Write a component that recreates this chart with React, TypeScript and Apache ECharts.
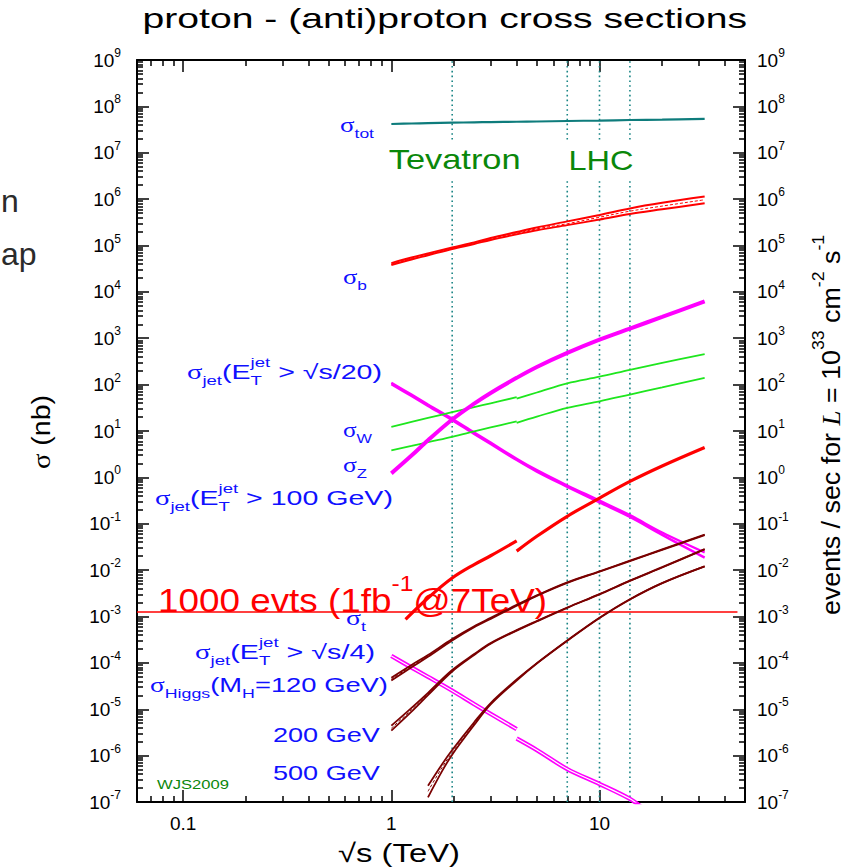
import React, { useEffect, useRef } from "react";
import * as echarts from "echarts";

const SANS = '"Liberation Sans", Arial, Helvetica, sans-serif';
const SERIF = '"Liberation Serif", "Times New Roman", serif';

// ---------- axes ----------
const sqrtsMin = 0.06;
const sqrtsMax = 50;
const sigmaMin = 1e-7;
const sigmaMax = 1e9;
const xTickLabels = [0.1, 1, 10];
const yTickExponents = [-7, -6, -5, -4, -3, -2, -1, 0, 1, 2, 3, 4, 5, 6, 7, 8, 9];

// ---------- collider energies (TeV) ----------
const tevatronEnergy = 1.96;
const lhcEnergies = [7, 10, 14];

// ---------- sqrt(s) grids (TeV) ----------
const sqrtsAll = [1, 1.25, 1.5, 1.96, 2.5, 3, 4, 5, 7, 10, 14, 20, 32];
const sqrtsPpbar = [1, 1.25, 1.5, 1.96, 2.5, 3, 4];
const sqrtsPp = [4, 5, 7, 10, 14, 20, 32];
const sqrtsTopPpbar = [1.17, 1.5, 1.96, 2.5, 3, 4];
const sqrtsJet4Pp = [4, 5, 7, 10, 14, 16];
const sqrtsHiggs500 = [1.5, 1.75, 1.96, 2.5, 3, 4, 5, 7, 10, 14, 20, 32];

// ---------- cross sections (nb) ----------
const sigmaTot = [4.17e7, 4.27e7, 4.34e7, 4.45e7, 4.53e7, 4.58e7, 4.66e7, 4.72e7, 4.84e7, 4.95e7, 5.08e7, 5.2e7, 5.37e7];
const sigmaBUpper = [4.17e4, 5.5e4, 6.76e4, 9.02e4, 1.16e5, 1.45e5, 1.95e5, 2.45e5, 3.31e5, 4.57e5, 6.31e5, 8.32e5, 1.135e6];
const sigmaBLower = [3.8e4, 5.01e4, 6.17e4, 8.41e4, 1.08e5, 1.32e5, 1.74e5, 2.14e5, 2.75e5, 3.63e5, 4.79e5, 6.03e5, 8.13e5];
const sigmaBCentral = [3.98e4, 5.25e4, 6.46e4, 8.71e4, 1.12e5, 1.38e5, 1.84e5, 2.29e5, 2.95e5, 4.07e5, 5.5e5, 7.08e5, 9.7e5];
const sigmaJet20Upper = [109.6, 60.9, 37.2, 18.3, 9.23, 5.61, 2.52, 1.43, 0.668, 0.316, 0.153, 0.0646, 0.024];
const sigmaJet20Lower = [101.9, 56.9, 34.8, 17.1, 8.61, 5.24, 2.36, 1.33, 0.624, 0.288, 0.14, 0.0575, 0.0186];
const sigmaJet100 = [1.22, 2.95, 6.31, 17.7, 38.9, 66.1, 140, 240, 483, 933, 1620, 2880, 6240];
const sigmaWPpbar = [12.3, 15.7, 19.1, 25.4, 32.7, 39.5, 53.5];
const sigmaWPp = [50.1, 67.6, 107, 148, 209, 295, 457];
const sigmaZPpbar = [3.8, 4.76, 5.75, 7.5, 9.77, 11.9, 16.2];
const sigmaZPp = [15.0, 20.4, 31.6, 43.7, 61.1, 87.1, 140];
const sigmaTopPpbar = [8.7e-4, 2.51e-3, 6.76e-3, 1.32e-2, 2.04e-2, 4.27e-2];
const sigmaTopPp = [0.0257, 0.0537, 0.145, 0.358, 0.817, 1.76, 4.41];
const sigmaJet4Ppbar = [1.41e-4, 7.94e-5, 5.01e-5, 2.51e-5, 1.29e-5, 7.94e-6, 3.72e-6];
const sigmaJet4Pp = [2.34e-6, 1.32e-6, 5.13e-7, 2.45e-7, 1.17e-7, 7.6e-8];
const higgs120Upper = [4.79e-5, 9.02e-5, 1.48e-4, 3.27e-4, 6.17e-4, 9.33e-4, 1.78e-3, 2.85e-3, 5.43e-3, 9.44e-3, 1.6e-2, 2.79e-2, 5.82e-2];
const higgs120Lower = [4.17e-5, 8.04e-5, 1.35e-4, 3.05e-4, 5.89e-4, 8.91e-4, 1.7e-3, 2.79e-3, 5.31e-3, 9.23e-3, 1.57e-2, 2.72e-2, 5.69e-2];
const higgs120Central = [4.47e-5, 8.51e-5, 1.41e-4, 3.16e-4, 6.03e-4, 9.12e-4, 1.74e-3, 2.82e-3, 5.37e-3, 9.33e-3, 1.58e-2, 2.75e-2, 5.75e-2];
const higgs200Upper = [4.42e-6, 1.07e-5, 2.26e-5, 7.0e-5, 1.55e-4, 2.67e-4, 5.07e-4, 8.0e-4, 1.56e-3, 3.04e-3, 5.92e-3, 1.16e-2, 2.84e-2];
const higgs200Lower = [3.47e-6, 8.91e-6, 2.02e-5, 6.53e-5, 1.48e-4, 2.59e-4, 4.95e-4, 7.87e-4, 1.54e-3, 3.0e-3, 5.86e-3, 1.14e-2, 2.8e-2];
const higgs200Central = [3.89e-6, 9.77e-6, 2.14e-5, 6.76e-5, 1.51e-4, 2.63e-4, 5.01e-4, 7.94e-4, 1.55e-3, 3.02e-3, 5.89e-3, 1.15e-2, 2.82e-2];
const higgs500Upper = [2.24e-7, 6.46e-7, 1.32e-6, 5.25e-6, 1.36e-5, 4.37e-5, 9.89e-5, 3.05e-4, 9.4e-4, 2.36e-3, 5.26e-3, 1.21e-2];
const higgs500Lower = [1.26e-7, 4.57e-7, 1.05e-6, 4.57e-6, 1.27e-5, 4.17e-5, 9.66e-5, 2.99e-4, 9.27e-4, 2.33e-3, 5.24e-3, 1.2e-2];
const higgs500Central = [1.7e-7, 5.5e-7, 1.17e-6, 4.9e-6, 1.32e-5, 4.27e-5, 9.77e-5, 3.02e-4, 9.33e-4, 2.34e-3, 5.25e-3, 1.2e-2];
// 1000 events with 1 fb^-1
const evts1000Sigma = 1.25e-3;
const evts1000Range = [0.06, 46];

// ---------- colours ----------
const TEAL = "#0e7c7c";
const DOT = "#1a8585";
const RED = "#ff0000";
const MAGENTA = "#ff00ff";
const GREEN = "#1ee61e";
const DARKRED = "#7a0000";
const BLUE = "#1010ff";
const DGREEN = "#0a870a";

// ---------- text helper ----------
let measureCtx: CanvasRenderingContext2D | null = null;
function measure(text: string, font: string): number {
  if (!measureCtx) measureCtx = document.createElement("canvas").getContext("2d");
  measureCtx!.font = font;
  return measureCtx!.measureText(text).width;
}

type Piece = { t: string; r?: "sub" | "sup"; stack?: boolean; serif?: boolean; italic?: boolean };
type LabelOpt = {
  x: number; y: number; pieces: Piece[]; size: number; color: string;
  anchor: "left" | "right" | "center"; width?: number; rotation?: number; z?: number; bg?: string;
};

function textGroup(o: LabelOpt): any {
  const subSize = Math.round(o.size * 0.66);
  const kids: any[] = [];
  let cursor = 0, lastStart = 0, lastAdv = 0;
  for (const p of o.pieces) {
    const fs = p.r ? subSize : o.size;
    const family = p.serif ? SERIF : SANS;
    const font = `${p.italic ? "italic " : ""}${fs}px ${family}`;
    const w = measure(p.t, font);
    let x0: number;
    if (p.stack) {
      x0 = lastStart;
      lastAdv = Math.max(lastAdv, w);
      cursor = lastStart + lastAdv;
    } else {
      x0 = cursor;
      lastStart = x0;
      lastAdv = w;
      cursor += w;
    }
    const dy = p.r === "sub" ? o.size * 0.42 : p.r === "sup" ? -o.size * 0.5 : 0;
    const style: any = {
      text: p.t, font, fill: o.color,
      textAlign: "left", align: "left", textVerticalAlign: "middle", verticalAlign: "middle",
    };
    if (o.bg) { style.backgroundColor = o.bg; style.padding = [4, 3]; }
    kids.push({ type: "text", x: x0, y: dy, z: o.z ?? 2, silent: true, style });
  }
  const total = cursor;
  const shift = o.anchor === "right" ? -total : o.anchor === "center" ? -total / 2 : 0;
  for (const k of kids) k.x += shift;
  const sx = o.width ? o.width / total : 1;
  return { type: "group", x: o.x, y: o.y, scaleX: sx, scaleY: 1, rotation: o.rotation ?? 0, silent: true, children: kids };
}

const S = (t: string): Piece => ({ t, serif: true });
const T = (t: string): Piece => ({ t });
const sub = (t: string): Piece => ({ t, r: "sub" });
const sup = (t: string, stack = false): Piece => ({ t, r: "sup", stack });

// ---------- series helpers ----------
const pairs = (xs: number[], ys: number[]) => xs.map((x, i) => [x, ys[i]]);
function curve(xs: number[], ys: number[], color: string, width: number, type: any = "solid", z = 3): any {
  return {
    type: "line", xAxisIndex: 0, yAxisIndex: 0, data: pairs(xs, ys),
    symbol: "none", showSymbol: false, smooth: 0.35,
    silent: true, z, lineStyle: { color, width, type },
  };
}

function minorTicks(lo: number, hi: number): number[] {
  const out: number[] = [];
  for (let e = Math.floor(Math.log10(lo)); e <= Math.ceil(Math.log10(hi)); e++) {
    for (let k = 2; k <= 9; k++) {
      const v = parseFloat(`${k}e${e}`);
      if (v >= lo * 0.999 && v <= hi * 1.001) out.push(v);
    }
  }
  return out;
}

function buildOption(): any {
  const yMajor = yTickExponents.map((e) => parseFloat(`1e${e}`));
  const xMinor = minorTicks(sqrtsMin, sqrtsMax);
  const yMinor = minorTicks(sigmaMin, sigmaMax);
  const gridBox = { left: 137, right: 107, top: 60, bottom: 66, containLabel: false, outerBoundsMode: "none" };

  const tickStyle = { color: "#000", width: 1.5 };
  const baseX = { type: "log", logBase: 10, min: sqrtsMin, max: sqrtsMax, splitLine: { show: false }, minorTick: { show: false } };
  const baseY = { type: "log", logBase: 10, min: sigmaMin, max: sigmaMax, splitLine: { show: false }, minorTick: { show: false } };
  const frame = { show: true, onZero: false, lineStyle: { color: "#000", width: 2 } };
  const noLine = { show: false, onZero: false };
  const yLabelRich = {
    b: { fontSize: 19, fontFamily: SANS, color: "#000", lineHeight: 26 },
    e: { fontSize: 12, fontFamily: SANS, color: "#000", lineHeight: 12, verticalAlign: "top" },
  };
  const yFormatter = (v: number) => `{b|10}{e|${Math.round(Math.log10(v))}}`;

  const xAxis = [
    { ...baseX, gridIndex: 0, position: "bottom", axisLine: frame,
      axisTick: { show: true, inside: true, length: 12, customValues: xTickLabels, lineStyle: tickStyle },
      axisLabel: { show: true, customValues: xTickLabels, formatter: (v: number) => String(v), color: "#000", fontSize: 19, fontFamily: SANS, margin: 12 } },
    { ...baseX, gridIndex: 0, position: "top", axisLine: frame,
      axisTick: { show: true, inside: true, length: 12, customValues: xTickLabels, lineStyle: tickStyle },
      axisLabel: { show: false } },
    { ...baseX, gridIndex: 1, position: "bottom", axisLine: noLine,
      axisTick: { show: true, inside: true, length: 6, customValues: xMinor, lineStyle: tickStyle },
      axisLabel: { show: false } },
    { ...baseX, gridIndex: 1, position: "top", axisLine: noLine,
      axisTick: { show: true, inside: true, length: 6, customValues: xMinor, lineStyle: tickStyle },
      axisLabel: { show: false } },
  ];
  const yAxis = [
    { ...baseY, gridIndex: 0, position: "left", axisLine: frame,
      axisTick: { show: true, inside: true, length: 12, customValues: yMajor, lineStyle: tickStyle },
      axisLabel: { show: true, customValues: yMajor, formatter: yFormatter, rich: yLabelRich, margin: 16 } },
    { ...baseY, gridIndex: 0, position: "right", axisLine: frame,
      axisTick: { show: true, inside: true, length: 12, customValues: yMajor, lineStyle: tickStyle },
      axisLabel: { show: true, customValues: yMajor, formatter: yFormatter, rich: yLabelRich, margin: 12 } },
    { ...baseY, gridIndex: 1, position: "left", axisLine: noLine,
      axisTick: { show: true, inside: true, length: 6, customValues: yMinor, lineStyle: tickStyle },
      axisLabel: { show: false } },
    { ...baseY, gridIndex: 1, position: "right", axisLine: noLine,
      axisTick: { show: true, inside: true, length: 6, customValues: yMinor, lineStyle: tickStyle },
      axisLabel: { show: false } },
  ];

  const series: any[] = [];
  // collider energy markers
  [tevatronEnergy, ...lhcEnergies].forEach((e) => {
    series.push({
      type: "line", xAxisIndex: 0, yAxisIndex: 0, data: [[e, sigmaMin], [e, sigmaMax]],
      symbol: "none", silent: true, z: 1, lineStyle: { color: DOT, width: 1.6, type: [1.6, 3.2] },
    });
  });
  // 1000 events line
  series.push({
    type: "line", xAxisIndex: 0, yAxisIndex: 0,
    data: [[evts1000Range[0], evts1000Sigma], [evts1000Range[1], evts1000Sigma]],
    symbol: "none", silent: true, z: 3, lineStyle: { color: RED, width: 1.6 },
  });
  // sigma_tot
  series.push(curve(sqrtsAll, sigmaTot, TEAL, 2.2));
  // sigma_b band
  series.push(curve(sqrtsAll, sigmaBUpper, RED, 2));
  series.push(curve(sqrtsAll, sigmaBLower, RED, 2));
  series.push(curve(sqrtsAll, sigmaBCentral, RED, 1, [3, 2]));
  // jets E_T > sqrt(s)/20
  series.push(curve(sqrtsAll, sigmaJet20Upper, MAGENTA, 2.4));
  series.push(curve(sqrtsAll, sigmaJet20Lower, MAGENTA, 2.4));
  // W and Z
  series.push(curve(sqrtsPpbar, sigmaWPpbar, GREEN, 1.8));
  series.push(curve(sqrtsPp, sigmaWPp, GREEN, 1.8));
  series.push(curve(sqrtsPpbar, sigmaZPpbar, GREEN, 1.8));
  series.push(curve(sqrtsPp, sigmaZPp, GREEN, 1.8));
  // jets E_T > 100 GeV
  series.push(curve(sqrtsAll, sigmaJet100, MAGENTA, 4));
  // top
  series.push(curve(sqrtsTopPpbar, sigmaTopPpbar, RED, 3.2));
  series.push(curve(sqrtsPp, sigmaTopPp, RED, 3.2));
  // jets E_T > sqrt(s)/4 (hollow band)
  series.push(curve(sqrtsPpbar, sigmaJet4Ppbar, MAGENTA, 4.4));
  series.push(curve(sqrtsPpbar, sigmaJet4Ppbar, "#ffffff", 1.2, "solid", 4));
  series.push(curve(sqrtsJet4Pp, sigmaJet4Pp, MAGENTA, 4.4));
  series.push(curve(sqrtsJet4Pp, sigmaJet4Pp, "#ffffff", 1.2, "solid", 4));
  // Higgs
  series.push(curve(sqrtsAll, higgs120Upper, DARKRED, 1.8, "solid", 5));
  series.push(curve(sqrtsAll, higgs120Lower, DARKRED, 1.8, "solid", 5));
  series.push(curve(sqrtsAll, higgs120Central, DARKRED, 1, [3, 2], 5));
  series.push(curve(sqrtsAll, higgs200Upper, DARKRED, 1.8, "solid", 5));
  series.push(curve(sqrtsAll, higgs200Lower, DARKRED, 1.8, "solid", 5));
  series.push(curve(sqrtsAll, higgs200Central, DARKRED, 1, [3, 2], 5));
  series.push(curve(sqrtsHiggs500, higgs500Upper, DARKRED, 1.8, "solid", 5));
  series.push(curve(sqrtsHiggs500, higgs500Lower, DARKRED, 1.8, "solid", 5));
  series.push(curve(sqrtsHiggs500, higgs500Central, DARKRED, 1, [3, 2], 5));

  const L = 20;
  const jetPrefix = [S("σ"), sub("jet"), T("(E"), sub("T"), sup("jet", true)];
  const elements: any[] = [
    textGroup({ x: 445, y: 19, pieces: [T("proton - (anti)proton cross sections")], size: 27, color: "#000", anchor: "center", width: 605 }),
    textGroup({ x: 399, y: 853, pieces: [T("√s (TeV)")], size: 26, color: "#000", anchor: "center", width: 122 }),
    textGroup({ x: 41, y: 432, pieces: [S("σ"), T(" (nb)")], size: 26, color: "#000", anchor: "center", width: 74, rotation: Math.PI / 2 }),
    textGroup({
      x: 831, y: 425, size: 26, color: "#000", anchor: "center", width: 380, rotation: Math.PI / 2,
      pieces: [T("events / sec for "), { t: "L", serif: true, italic: true }, T(" = 10"), sup("33"), T(" cm"), sup("-2"), T(" s"), sup("-1")],
    }),
    textGroup({ x: 1, y: 201, pieces: [T("n")], size: 32, color: "#2b2b2b", anchor: "left" }),
    textGroup({ x: 1, y: 254, pieces: [T("ap")], size: 32, color: "#2b2b2b", anchor: "left" }),
    textGroup({ x: 385, y: 160, pieces: [T("Tevatron")], size: 28, color: DGREEN, anchor: "left", width: 132, bg: "#ffffff" }),
    textGroup({ x: 565, y: 160, pieces: [T("LHC")], size: 28, color: DGREEN, anchor: "left", width: 65, bg: "#ffffff" }),
    textGroup({ x: 374, y: 125, pieces: [S("σ"), sub("tot")], size: L, color: BLUE, anchor: "right", width: 34 }),
    textGroup({ x: 367, y: 277, pieces: [S("σ"), sub("b")], size: L, color: BLUE, anchor: "right", width: 24 }),
    textGroup({ x: 382, y: 372, pieces: [...jetPrefix, T(" > √s/20)")], size: L, color: BLUE, anchor: "right", width: 195 }),
    textGroup({ x: 372, y: 430, pieces: [S("σ"), sub("W")], size: L, color: BLUE, anchor: "right", width: 29 }),
    textGroup({ x: 367, y: 465, pieces: [S("σ"), sub("Z")], size: L, color: BLUE, anchor: "right", width: 24 }),
    textGroup({ x: 393, y: 498, pieces: [...jetPrefix, T(" > 100 GeV)")], size: L, color: BLUE, anchor: "right", width: 238 }),
    textGroup({ x: 158, y: 600, pieces: [T("1000 evts (1fb"), sup("-1"), T("@7TeV)")], size: 33, color: RED, anchor: "left", width: 389 }),
    textGroup({ x: 366, y: 618, pieces: [S("σ"), sub("t")], size: L, color: BLUE, anchor: "right", width: 20 }),
    textGroup({ x: 375, y: 652, pieces: [...jetPrefix, T(" > √s/4)")], size: L, color: BLUE, anchor: "right", width: 180 }),
    textGroup({ x: 388, y: 685, pieces: [S("σ"), sub("Higgs"), T("(M"), sub("H"), T("=120 GeV)")], size: L, color: BLUE, anchor: "right", width: 238 }),
    textGroup({ x: 380, y: 735, pieces: [T("200 GeV")], size: L, color: BLUE, anchor: "right", width: 107 }),
    textGroup({ x: 380, y: 773, pieces: [T("500 GeV")], size: L, color: BLUE, anchor: "right", width: 107 }),
    textGroup({ x: 157, y: 785, pieces: [T("WJS2009")], size: 13, color: DGREEN, anchor: "left", width: 72 }),
  ];

  return {
    animation: false,
    backgroundColor: "#ffffff",
    grid: [gridBox, { ...gridBox }],
    xAxis,
    yAxis,
    series,
    graphic: { elements },
  };
}

export default function App() {
  const ref = useRef<HTMLDivElement>(null);
  useEffect(() => {
    document.body.style.margin = "0";
    const chart = echarts.init(ref.current!, null, { renderer: "svg" });
    chart.setOption(buildOption());
    return () => chart.dispose();
  }, []);
  return <div ref={ref} style={{ position: "absolute", left: 0, top: 0, width: 852, height: 868 }} />;
}
